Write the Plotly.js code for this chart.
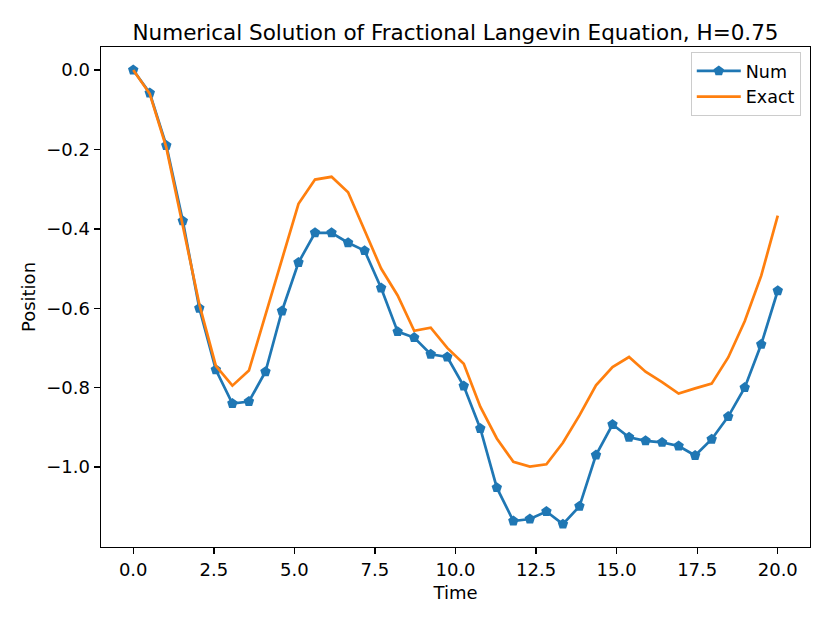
<!DOCTYPE html>
<html>
<head>
<meta charset="utf-8">
<script src="https://cdn.plot.ly/plotly-3.0.1.min.js"></script>
<style>
  html, body { margin: 0; padding: 0; background: #fff; }
  #plot { width: 830px; height: 623px; }
</style>
</head>
<body>
<div id="plot"></div>
<script>
// 40 time steps from 0 to 20
var time = [0.000, 0.513, 1.026, 1.538, 2.051, 2.564, 3.077, 3.590, 4.103, 4.615,
            5.128, 5.641, 6.154, 6.667, 7.179, 7.692, 8.205, 8.718, 9.231, 9.744,
            10.256, 10.769, 11.282, 11.795, 12.308, 12.821, 13.333, 13.846, 14.359, 14.872,
            15.385, 15.897, 16.410, 16.923, 17.436, 17.949, 18.462, 18.974, 19.487, 20.000];

var numPos = [0.000, -0.058, -0.190, -0.380, -0.600, -0.755, -0.840, -0.835, -0.760, -0.607,
              -0.485, -0.410, -0.410, -0.435, -0.455, -0.549, -0.659, -0.674, -0.716, -0.723,
              -0.796, -0.903, -1.052, -1.136, -1.131, -1.112, -1.144, -1.099, -0.970, -0.893,
              -0.925, -0.934, -0.938, -0.947, -0.971, -0.930, -0.873, -0.800, -0.691, -0.556];

var exactPos = [0.000, -0.060, -0.195, -0.395, -0.590, -0.745, -0.795, -0.757, -0.615, -0.475,
                -0.337, -0.276, -0.269, -0.308, -0.404, -0.500, -0.568, -0.657, -0.649, -0.700,
                -0.740, -0.848, -0.928, -0.987, -0.999, -0.993, -0.939, -0.870, -0.794, -0.748,
                -0.723, -0.760, -0.786, -0.815, -0.802, -0.790, -0.724, -0.633, -0.518, -0.367];

var xTicks = [0, 2.5, 5, 7.5, 10, 12.5, 15, 17.5, 20];
var yTicks = [-1.0, -0.8, -0.6, -0.4, -0.2, 0.0];

var font = 'DejaVu Sans, sans-serif';

var traces = [
  {
    x: time, y: numPos, name: 'Num',
    mode: 'lines+markers', type: 'scatter',
    line: { color: '#1f77b4', width: 2.7 },
    marker: { symbol: 'pentagon', size: 11, color: '#1f77b4' }
  },
  {
    x: time, y: exactPos, name: 'Exact',
    mode: 'lines', type: 'scatter',
    line: { color: '#ff7f0e', width: 2.7 }
  }
];

var axisCommon = {
  showgrid: false, zeroline: false,
  showline: true, mirror: true, linecolor: '#000', linewidth: 1.4,
  ticks: 'outside', ticklen: 6, tickwidth: 1.4, tickcolor: '#000',
  tickfont: { family: font, size: 18, color: '#000' }
};

var layout = {
  width: 830, height: 623,
  margin: { l: 101, r: 20, t: 47, b: 76 },
  paper_bgcolor: '#fff', plot_bgcolor: '#fff',
  font: { family: font, color: '#000' },
  title: {
    text: 'Numerical Solution of Fractional Langevin Equation, H=0.75',
    font: { family: font, size: 21.5, color: '#000' },
    x: 0.5, xref: 'paper', y: 1, yref: 'paper', yanchor: 'bottom',
    pad: { b: 7 }
  },
  xaxis: Object.assign({}, axisCommon, {
    range: [-1, 21],
    tickvals: xTicks, tickformat: '.1f',
    title: { text: 'Time', font: { family: font, size: 18 }, standoff: 7 }
  }),
  yaxis: Object.assign({}, axisCommon, {
    range: [-1.2015, 0.058],
    tickvals: yTicks, tickformat: '.1f',
    title: { text: 'Position', font: { family: font, size: 18 }, standoff: 6 }
  }),
  legend: {
    x: 0.987, xanchor: 'right', y: 0.99, yanchor: 'top',
    itemwidth: 44,
    bgcolor: 'rgba(255,255,255,0.8)', bordercolor: '#cccccc', borderwidth: 1,
    font: { family: font, size: 17.5, color: '#000' }
  },
  showlegend: true
};

Plotly.newPlot('plot', traces, layout, { displayModeBar: false, staticPlot: true });
</script>
</body>
</html>
